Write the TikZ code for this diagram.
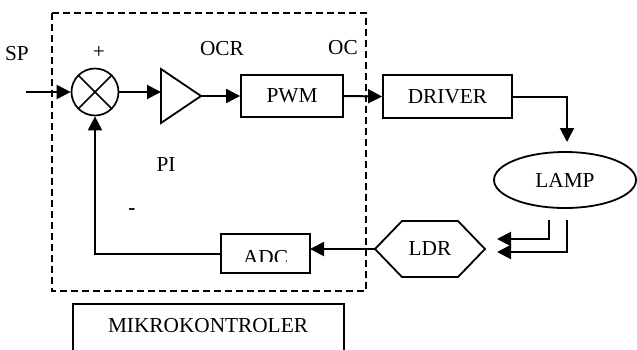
\documentclass[tikz,border=0pt]{standalone}
\usepackage{fontspec}
\setmainfont{Liberation Serif}
\usetikzlibrary{arrows.meta,shapes.geometric}
\newcommand\diagfont{\fontsize{21.3}{24}\selectfont}
\begin{document}
\begin{tikzpicture}[x=1pt,y=-1pt,
  line width=2pt,
  lbl/.style={font=\diagfont, inner sep=0},
  blk/.style={draw, rectangle, inner sep=0, font=\diagfont, line width=1.8pt},
  arr/.style={-{Triangle[length=14pt,width=14pt]}},
  ghost/.style={rectangle, inner sep=0, outer sep=0}]
\path[use as bounding box] (0,0) rectangle (637,349);

% microcontroller boundary
\draw[line width=1.5pt, dash pattern=on 7pt off 4pt] (52,13) rectangle (366,291);

% summing junction
\node[circle, draw, line width=1.7pt, minimum size=47pt, inner sep=0] (sum) at (95,92) {};
\draw[line width=1.7pt] (sum.north west) -- (sum.south east);
\draw[line width=1.7pt] (sum.north east) -- (sum.south west);
\node[lbl] (sp) at (17,54) {SP};
\coordinate (in) at (26,92);
\node[lbl] (plus) at (99,52) {+};
\node[lbl] (minus) at (132,212) {\textbf{-}};

% PI amplifier
\node[ghost, minimum width=40pt, minimum height=54pt] (amp) at (181,96) {};
\draw[line width=1.8pt] (amp.north west) -- (amp.east) -- (amp.south west) -- cycle;
\node[lbl] (pi) at (166,165) {PI};

% blocks
\node[blk, minimum width=102pt, minimum height=42pt] (pwm) at (292,96) {PWM};
\node[lbl] (ocr) at (222,49) {OCR};
\node[lbl] (oc) at (343,48) {OC};
\node[blk, minimum width=129pt, minimum height=43pt] (drv) at (447.5,96.5) {DRIVER};
\node[ellipse, draw, line width=1.8pt, minimum width=142pt, minimum height=56pt, inner sep=0, font=\diagfont] (lamp) at (565,180) {LAMP};

% LDR hexagon
\node[ghost, minimum width=110pt, minimum height=56pt, font=\diagfont] (ldr) at (430,249) {LDR};
\draw[line width=1.8pt] (ldr.west) -- ([xshift=27pt]ldr.north west) -- ([xshift=-27pt]ldr.north east)
      -- (ldr.east) -- ([xshift=-27pt]ldr.south east) -- ([xshift=27pt]ldr.south west) -- cycle;

% ADC block
\node[draw, ghost, line width=1.8pt, minimum width=89pt, minimum height=39pt] (adc) at (265.5,253.5) {};
\begin{scope}
  \clip (221,234) rectangle (310,261.5);
  \node[lbl, anchor=base] (adctext) at (265.5,264) {ADC};
\end{scope}

% signal connectors
\draw[arr] (in) -- (sum.west);
\draw[arr] (sum.east) -- (sum.east -| amp.west);
\draw[arr] (amp.east) -- (pwm.west);
\draw[arr] (pwm.east) -- (drv.west);
\coordinate (lampin) at (567,142);
\draw[arr] (drv.east) -| (lampin);
\coordinate (l1) at (549,220);
\coordinate (l2) at (567,220);
\coordinate (t1) at (497,239);
\coordinate (t2) at (497,252);
\draw[arr] (l1) |- (t1);
\draw[arr] (l2) |- (t2);
\draw[arr] (ldr.west) -- (ldr.west -| adc.east);
\draw[arr] (adc.west) -| (sum.south);

% microcontroller label box
\draw[line width=1.4pt] (73,352) -- (73,304) -- (344,304) -- (344,352);
\node[lbl] (mk) at (208,326) {MIKROKONTROLER};
\end{tikzpicture}
\end{document}
